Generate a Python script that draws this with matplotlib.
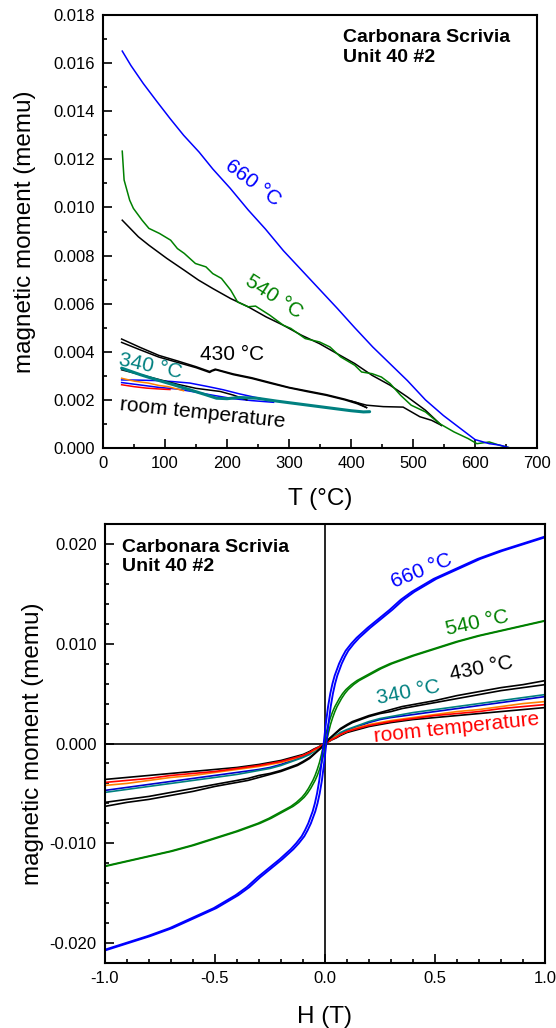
import numpy as np
import matplotlib
matplotlib.use("Agg")
import matplotlib.pyplot as plt
from matplotlib.ticker import MultipleLocator, FormatStrFormatter

plt.rcParams['font.family'] = ['Liberation Sans', 'DejaVu Sans']
plt.rcParams['axes.unicode_minus'] = False

# ---------------- top panel: M(T) curves ----------------
t_660 = [31, 45, 65, 87, 108, 130, 155, 177, 205, 234, 262, 291, 320, 349, 378,
         406, 435, 463, 491, 520, 549, 577, 600, 623, 640, 657]
m_660 = [0.0165, 0.0159, 0.01515, 0.0144, 0.0137, 0.0130, 0.0123, 0.0116, 0.0108,
         0.0099, 0.0091, 0.0082, 0.0074, 0.0066, 0.0058, 0.0050, 0.0042, 0.0035,
         0.0028, 0.0020, 0.00135, 0.0008, 0.00035, 0.00018, 0.00012, 0.0]

t_540g = [31, 34, 43, 49, 63, 74, 91, 109, 120, 131, 149, 166, 177, 191, 206, 217,
          234, 246, 269, 291, 303, 326, 349, 366, 383, 406, 417, 434, 449, 463,
          480, 497, 520, 543, 566, 589, 603, 623, 640, 657]
m_540g = [0.01234, 0.01114, 0.0103, 0.00996, 0.00947, 0.00913, 0.00892, 0.00864,
          0.00829, 0.00809, 0.00767, 0.00753, 0.00725, 0.00705, 0.00656, 0.00607,
          0.00587, 0.0059, 0.00552, 0.0051, 0.00497, 0.00455, 0.00441, 0.0042,
          0.00379, 0.00344, 0.00316, 0.00309, 0.00295, 0.00268, 0.00219, 0.00178,
          0.0015, 0.00101, 0.00067, 0.00039, 0.00018, 0.00025, 0.00011, 0.0]

t_540k = [31, 57, 74, 103, 131, 154, 177, 206, 234, 263, 291, 320, 349, 377, 406,
          434, 463, 491, 520, 546]
m_540k = [0.00947, 0.00878, 0.00843, 0.00788, 0.00739, 0.00698, 0.00663, 0.00621,
          0.00587, 0.00545, 0.0051, 0.00469, 0.00434, 0.00393, 0.00351, 0.00302,
          0.00261, 0.00212, 0.00157, 0.00094]

t_540k2 = [400, 425, 452, 484, 511, 530, 546]
m_540k2 = [0.00195, 0.00178, 0.00172, 0.0017, 0.0013, 0.00115, 0.00094]

t_430a = [30, 60, 90, 120, 150, 172, 175, 181, 210, 240, 270, 300, 330, 360, 390,
          410, 425]
m_430a = [0.00453, 0.00418, 0.00385, 0.00362, 0.00338, 0.00318, 0.00322, 0.00328,
          0.00308, 0.00292, 0.00272, 0.00252, 0.00237, 0.00222, 0.00203, 0.00188,
          0.00168]
t_430b = [30, 60, 90, 120, 150, 172, 176, 182, 210, 240, 270, 300, 330, 360, 390,
          410, 425]
m_430b = [0.00439, 0.00408, 0.00378, 0.00356, 0.00334, 0.00314, 0.00320, 0.00325,
          0.00305, 0.00289, 0.00269, 0.0025, 0.00234, 0.00219, 0.002, 0.00184,
          0.00168]

t_340k = [30, 60, 90, 120, 150, 189, 210, 232]
m_340k = [0.00325, 0.00305, 0.00285, 0.00265, 0.00248, 0.00235, 0.0022, 0.002]

t_340 = [30, 60, 87, 115, 140, 165, 183, 200, 220, 248, 280, 310, 340, 370, 400,
         420, 430]
m_340 = [0.00332, 0.00305, 0.00283, 0.00262, 0.00242, 0.00222, 0.00207, 0.00205,
         0.0021, 0.00207, 0.00195, 0.00185, 0.00175, 0.00165, 0.00155, 0.0015,
         0.00151]

t_rtb1 = [30, 60, 90, 113, 140, 170, 194, 220, 250, 275]
m_rtb1 = [0.00283, 0.00282, 0.0028, 0.00276, 0.0027, 0.00255, 0.00242, 0.00225,
          0.00208, 0.00193]
t_rtb2 = [30, 60, 90, 120, 150, 180, 210, 240, 275]
m_rtb2 = [0.00272, 0.00262, 0.00252, 0.00245, 0.00232, 0.00218, 0.00205, 0.00197,
          0.0019]
t_rto = [30, 50, 73, 90, 105, 120, 130]
m_rto = [0.0029, 0.00278, 0.0027, 0.0026, 0.00255, 0.00245, 0.00238]
t_rtr = [30, 50, 70, 87, 100, 108]
m_rtr = [0.00263, 0.00255, 0.00249, 0.00246, 0.00244, 0.00243]

# ---------------- bottom panel: M(H) curves ----------------
# H >= 0 half of each curve; curves are antisymmetric about the origin,
# loops are split by their coercive field
h_half = [0.0, 0.005, 0.01, 0.02, 0.03, 0.04, 0.05, 0.07, 0.085, 0.1, 0.125, 0.15,
          0.175, 0.2, 0.25, 0.3, 0.35, 0.4, 0.5, 0.6, 0.7, 0.8, 0.9, 1.0]
mh_660 = [0.0, 0.0010, 0.0020, 0.0037, 0.0050, 0.0060, 0.0068, 0.0080, 0.0087,
          0.0093, 0.0100, 0.0106, 0.0111, 0.0116, 0.0125, 0.0134, 0.0144, 0.0152,
          0.0165, 0.0175, 0.0185, 0.0193, 0.0200, 0.0207]
mh_540 = [0.0, 0.0005, 0.0010, 0.0019, 0.0026, 0.0032, 0.0037, 0.0045, 0.0050,
          0.0054, 0.0059, 0.0063, 0.0066, 0.0069, 0.0075, 0.0080, 0.0084, 0.0088,
          0.0095, 0.0102, 0.0108, 0.0113, 0.0118, 0.0123]
mh_430a = [0.0, 0.00012, 0.00025, 0.0005, 0.0007, 0.0009, 0.0011, 0.0015, 0.0017,
           0.0019, 0.0022, 0.0024, 0.0026, 0.0028, 0.0031, 0.0034, 0.0037, 0.0039,
           0.0043, 0.0048, 0.0052, 0.0056, 0.0059, 0.0063]
mh_430b = [0.0, 0.00011, 0.00024, 0.00047, 0.00066, 0.00085, 0.00104, 0.0014,
           0.0016, 0.0018, 0.0021, 0.0023, 0.0025, 0.0027, 0.0030, 0.0032, 0.0035,
           0.0037, 0.0041, 0.0045, 0.0049, 0.0053, 0.0056, 0.0059]
mh_340 = [0.0, 0.00007, 0.00015, 0.0003, 0.0005, 0.00065, 0.0008, 0.0011, 0.00125,
          0.0014, 0.0016, 0.0018, 0.0020, 0.0022, 0.0025, 0.0027, 0.0029, 0.0031,
          0.0034, 0.0037, 0.0040, 0.0043, 0.0046, 0.0049]
mh_rtb = [0.0, 0.00007, 0.00015, 0.0003, 0.00045, 0.0006, 0.00075, 0.0010, 0.00115,
          0.0013, 0.0015, 0.0017, 0.0019, 0.0021, 0.0024, 0.0026, 0.00275, 0.0029,
          0.0032, 0.0035, 0.0038, 0.0041, 0.0044, 0.0047]
mh_rto = [0.0, 0.00007, 0.00014, 0.00028, 0.0004, 0.00055, 0.0007, 0.0009, 0.00105,
          0.0012, 0.0014, 0.0016, 0.00175, 0.0019, 0.0021, 0.0023, 0.00245, 0.0026,
          0.0029, 0.0032, 0.0034, 0.0037, 0.0040, 0.0042]
mh_rtk = [0.0, 0.00005, 0.00011, 0.00022, 0.00035, 0.00045, 0.00055, 0.0008,
          0.00095, 0.0011, 0.00125, 0.0014, 0.00155, 0.0017, 0.0019, 0.0021,
          0.00225, 0.0024, 0.0026, 0.0028, 0.0030, 0.0032, 0.0034, 0.0036]
mh_rtr = [0.0, 0.00006, 0.00012, 0.00025, 0.0004, 0.0005, 0.0006, 0.0009, 0.00105,
          0.0012, 0.00135, 0.0015, 0.00165, 0.0018, 0.002, 0.0022, 0.00235, 0.0025,
          0.0028, 0.0030, 0.0032, 0.0035, 0.0037, 0.0039]
hc_660 = 0.006
hc_540 = 0.005

BLUE = '#0000ff'
GREEN = '#008000'
TEAL = '#008080'
ORANGE = '#ff8000'
RED = '#ff0000'


def style_axes(ax):
    for s in ax.spines.values():
        s.set_linewidth(1.5)
    ax.tick_params(which='both', direction='in', top=False, right=False,
                   labelsize=12, width=1.2, pad=6)
    ax.tick_params(which='major', length=6.5)
    ax.tick_params(which='minor', length=3.2)


fig = plt.figure(figsize=(5.56, 10.28), dpi=100)

# ---- top ----
ax1 = fig.add_axes([0.1853, 0.5642, 0.7806, 0.4212])
lw = 1.1
ax1.plot(t_rtb2, m_rtb2, color=BLUE, lw=lw)
ax1.plot(t_rtb1, m_rtb1, color=BLUE, lw=lw)
ax1.plot(t_rto, m_rto, color=ORANGE, lw=lw)
ax1.plot(t_rtr, m_rtr, color=RED, lw=lw)
ax1.plot(t_340k, m_340k, color='black', lw=lw)
ax1.plot(t_340, m_340, color=TEAL, lw=2.2, solid_capstyle='round')
ax1.plot(t_430a, m_430a, color='black', lw=lw)
ax1.plot(t_430b, m_430b, color='black', lw=lw)
ax1.plot(t_540k2, m_540k2, color='black', lw=lw)
ax1.plot(t_540k, m_540k, color='black', lw=lw)
ax1.plot(t_540g, m_540g, color=GREEN, lw=lw)
ax1.plot(t_660, m_660, color=BLUE, lw=lw)

ax1.set_xlim(0, 700)
ax1.set_ylim(0, 0.018)
ax1.xaxis.set_major_locator(MultipleLocator(100))
ax1.xaxis.set_minor_locator(MultipleLocator(50))
ax1.yaxis.set_major_locator(MultipleLocator(0.002))
ax1.yaxis.set_minor_locator(MultipleLocator(0.001))
ax1.yaxis.set_major_formatter(FormatStrFormatter('%.3f'))
style_axes(ax1)
ax1.set_xlabel('T (°C)', fontsize=17.5, labelpad=12)
ax1.set_ylabel('magnetic moment (memu)', fontsize=17.5, labelpad=12)

ax1.text(0.553, 0.925, 'Carbonara Scrivia\nUnit 40 #2', transform=ax1.transAxes,
         fontsize=14, fontweight='bold', ha='left', va='center', linespacing=1.2)
ax1.text(242, 0.0110, '660 °C', color=BLUE, fontsize=15, rotation=-37,
         ha='center', va='center')
ax1.text(275, 0.0063, '540 °C', color=GREEN, fontsize=15, rotation=-33,
         ha='center', va='center')
ax1.text(208, 0.0039, '430 °C', color='black', fontsize=15, ha='center',
         va='center')
ax1.text(76, 0.0034, '340 °C', color=TEAL, fontsize=15, rotation=-12,
         ha='center', va='center')
ax1.text(160, 0.00145, 'room temperature', color='black', fontsize=15,
         rotation=-6, ha='center', va='center')

# ---- bottom ----
ax2 = fig.add_axes([0.1888, 0.0632, 0.7914, 0.4271])
ax2.axhline(0, color='black', lw=1.2, zorder=1)
ax2.axvline(0, color='black', lw=1.2, zorder=1)

hh = np.array(h_half)
h_all = np.concatenate([-hh[::-1], hh[1:]])


def full(m):
    m = np.array(m)
    return np.concatenate([-m[::-1], m[1:]])


lw2 = 1.2
for vals, col in [(mh_rtk, 'black'), (mh_rtb, '#0000cc'), (mh_340, TEAL),
                  (mh_rto, ORANGE), (mh_rtr, RED), (mh_430b, 'black'),
                  (mh_430a, 'black')]:
    ax2.plot(h_all, full(vals), color=col, lw=lw2)

for vals, hc, col, w in [(mh_540, hc_540, GREEN, 1.15), (mh_660, hc_660, BLUE, 1.35)]:
    ax2.plot(h_all - hc, full(vals), color=col, lw=w)
    ax2.plot(h_all + hc, full(vals), color=col, lw=w)

ax2.set_xlim(-1, 1)
ax2.set_ylim(-0.022, 0.022)
ax2.xaxis.set_major_locator(MultipleLocator(0.5))
ax2.xaxis.set_minor_locator(MultipleLocator(0.1))
ax2.xaxis.set_major_formatter(FormatStrFormatter('%.1f'))
ax2.yaxis.set_major_locator(MultipleLocator(0.01))
ax2.yaxis.set_minor_locator(MultipleLocator(0.002))
ax2.yaxis.set_major_formatter(FormatStrFormatter('%.3f'))
style_axes(ax2)
ax2.set_xlabel('H (T)', fontsize=17.5, labelpad=14)
ax2.set_ylabel('magnetic moment (memu)', fontsize=17.5, labelpad=4)

ax2.text(0.039, 0.925, 'Carbonara Scrivia\nUnit 40 #2', transform=ax2.transAxes,
         fontsize=14, fontweight='bold', ha='left', va='center', linespacing=1.2)
ax2.text(0.44, 0.0173, '660 °C', color=BLUE, fontsize=15, rotation=22,
         ha='center', va='center')
ax2.text(0.69, 0.0121, '540 °C', color=GREEN, fontsize=15, rotation=12,
         ha='center', va='center')
ax2.text(0.71, 0.0075, '430 °C', color='black', fontsize=15, rotation=11,
         ha='center', va='center')
ax2.text(0.38, 0.0051, '340 °C', color=TEAL, fontsize=15, rotation=11,
         ha='center', va='center')
ax2.text(0.60, 0.0016, 'room temperature', color=RED, fontsize=15, rotation=6,
         ha='center', va='center')

fig.savefig('out.png', dpi=100)
